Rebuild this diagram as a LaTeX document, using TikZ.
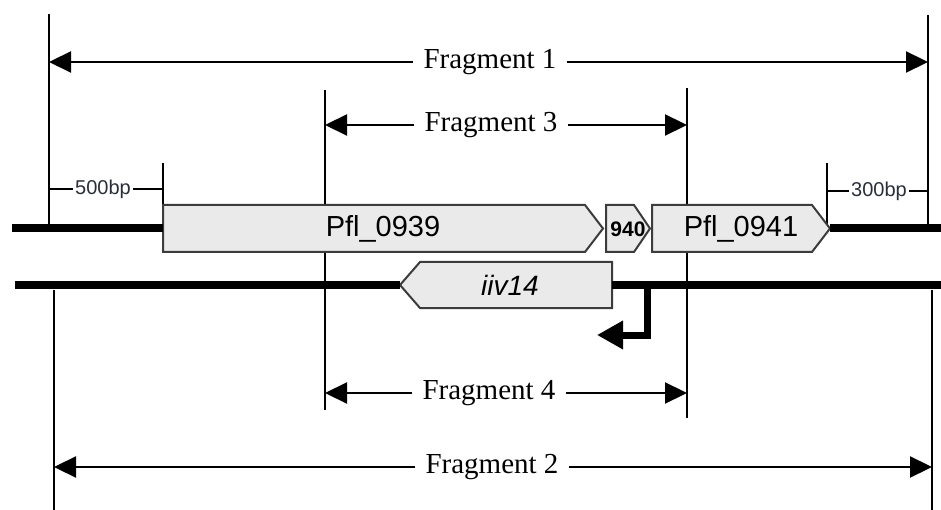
\documentclass[tikz,border=0pt]{standalone}
\usepackage{fontspec}
\setmainfont{Liberation Serif}
\setsansfont{Liberation Sans}
\usetikzlibrary{arrows.meta}

\definecolor{genefill}{HTML}{EAEAEA}
\definecolor{geneline}{HTML}{3C3C3C}
\definecolor{bptext}{HTML}{2A2E38}

\begin{document}
\begin{tikzpicture}[x=1pt,y=-1pt,line join=miter,
  guide/.style={line width=1.4pt},
  strand/.style={line width=8pt},
  genebox/.style={fill=genefill,draw=geneline,line width=2pt},
  fragline/.style={line width=2.2pt,-{Triangle[length=22pt,width=21pt]}},
  fraglabel/.style={inner xsep=10pt,inner ysep=0pt,font=\fontsize{29}{30}\selectfont},
  bptick/.style={line width=1.2pt},
  bplabel/.style={inner xsep=2pt,text=bptext,font=\sffamily\fontsize{20}{21}\selectfont},
  genelabel/.style={font=\sffamily\fontsize{29}{30}\selectfont},
  promoter/.style={line width=7pt,-{Triangle[length=26pt,width=27pt]}}]
\useasboundingbox (0,0) rectangle (941,510);

% thin guide lines
\foreach \xa/\ya/\yb in {49/14/225, 928/15/225, 163/163/205, 827/163/228,
  325/90/410, 687/88/418, 54/290/510, 932/290/510} {
  \draw[guide] (\xa,\ya) -- (\xa,\yb);
}

% fragments
\coordinate (f1-l) at (49,62);  \coordinate (f1-r) at (928,62);
\coordinate (f3-l) at (325,125); \coordinate (f3-r) at (687,125);
\coordinate (f4-l) at (325,393); \coordinate (f4-r) at (687,393);
\coordinate (f2-l) at (54,467);  \coordinate (f2-r) at (932,467);
\foreach \n/\x/\y/\lab in {f1/490/62/1, f3/491/125/3, f4/489/393/4, f2/492/467/2} {
  \node[fraglabel] (\n-lab) at (\x,\y) {Fragment \lab};
  \draw[fragline] (\n-lab.west) -- (\n-l);
  \draw[fragline] (\n-lab.east) -- (\n-r);
}

% flank lengths
\coordinate (bp500-l) at (49,189);  \coordinate (bp500-r) at (163,189);
\coordinate (bp300-l) at (827,191); \coordinate (bp300-r) at (928,191);
\node[bplabel] (bp500) at (103,189) {500bp};
\node[bplabel] (bp300) at (879,191) {300bp};
\draw[bptick] (bp500-l) -- (bp500.west);
\draw[bptick] (bp500.east) -- (bp500-r);
\draw[bptick] (bp300-l) -- (bp300.west);
\draw[bptick] (bp300.east) -- (bp300-r);

% genes on the upper strand
\newcommand{\fwdgene}[6]{%
  \draw[genebox] (#2,205) -- (#3,205) -- (#4,228.5) -- (#3,252) -- (#2,252) -- cycle;
  \coordinate (#1-w) at (#2,228.5);
  \coordinate (#1-e) at (#4,228.5);
  \node[#6] (#1) at ({(#2+#4)/2},229) {#5};
}
\fwdgene{pfl939}{163}{585}{603}{Pfl\_0939}{genelabel}
\fwdgene{pfl940}{606}{634}{650}{\textbf{940}}{inner sep=0pt,font=\sffamily\fontsize{21}{22}\selectfont}
\fwdgene{pfl941}{652}{812}{830}{Pfl\_0941}{genelabel}

% gene on the lower strand
\draw[genebox] (400,285) -- (420,262) -- (612,262) -- (612,308) -- (420,308) -- cycle;
\coordinate (iiv-w) at (400,285);
\coordinate (iiv-e) at (612,285);
\node[genelabel,font=\sffamily\itshape\fontsize{28}{30}\selectfont] (iiv14) at (510,285) {iiv14};

% strands
\coordinate (top-l) at (12,228.5); \coordinate (top-r) at (941,228.5);
\coordinate (bot-l) at (15,285);   \coordinate (bot-r) at (941,285);
\draw[strand] (top-l) -- (pfl939-w);
\draw[strand] (pfl941-e) -- (top-r);
\draw[strand] (bot-l) -- (iiv-w);
\draw[strand] (iiv-e) -- (bot-r);

% promoter
\coordinate (prom-top) at (647,285);
\coordinate (prom-bend) at (647,335);
\coordinate (prom-tip) at (597,335);
\draw[promoter] (prom-top) -- (prom-bend) -- (prom-tip);
\end{tikzpicture}
\end{document}
